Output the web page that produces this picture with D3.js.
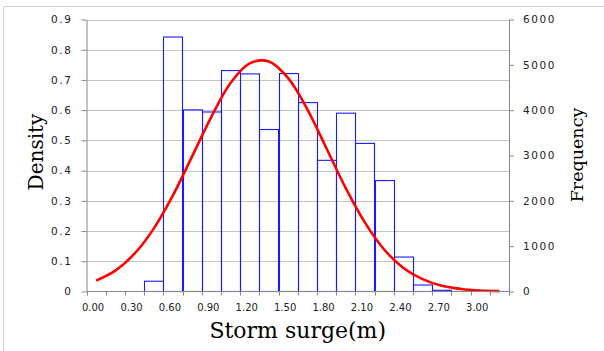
<!DOCTYPE html>
<html>
<head>
<meta charset="utf-8">
<script src="https://cdn.jsdelivr.net/npm/d3@7"></script>
<style>
  body { margin: 0; background: #fff; }
  svg { display: block; }
</style>
</head>
<body>
<div id="main"></div>
<script>
// storm surge bins (m), 0.15 m wide
const categories = ["0.00","0.15","0.30","0.45","0.60","0.75","0.90","1.05","1.20","1.35","1.50",
                    "1.65","1.80","1.95","2.10","2.25","2.40","2.55","2.70","2.85","3.00","3.15"];
// histogram bar heights (density axis)
const binDensity = [0, 0, 0, 0.034, 0.842, 0.601, 0.594, 0.731, 0.720, 0.536, 0.721,
                    0.625, 0.434, 0.590, 0.490, 0.367, 0.114, 0.0215, 0.004, 0, 0, 0];
// fitted density curve, one point per bin
const fitDensity = [0.036, 0.069, 0.125, 0.208, 0.318, 0.447, 0.578, 0.690, 0.755, 0.761, 0.706,
                    0.603, 0.473, 0.342, 0.228, 0.139, 0.078, 0.041, 0.019, 0.0085, 0.0034, 0.0013];
const densityTicks = [0, 0.1, 0.2, 0.3, 0.4, 0.5, 0.6, 0.7, 0.8, 0.9];
const freqTicks = [0, 1000, 2000, 3000, 4000, 5000, 6000];

const ctx = {
    width: 604,
    height: 351,
    left: 86.5,
    right: 509,
    top: 19.5,
    bottom: 291.5
};

function createViz() {
    const svg = d3.select("#main").append("svg")
        .attr("width", ctx.width)
        .attr("height", ctx.height);

    // outer chart frame (only top and left edges visible)
    svg.append("path")
        .attr("d", `M3.5,${ctx.height} V6.5 H${ctx.width}`)
        .attr("fill", "none")
        .attr("stroke", "#d0d0d0");

    const x = d3.scaleBand().domain(categories).range([ctx.left, ctx.right]).padding(0);
    const yL = d3.scaleLinear().domain([0, 0.9]).range([ctx.bottom, ctx.top]);
    const yR = d3.scaleLinear().domain([0, 6000]).range([ctx.bottom, ctx.top]);
    const bw = x.bandwidth();

    // gridlines
    svg.append("g").selectAll("line")
        .data(densityTicks.filter(d => d > 0))
        .enter().append("line")
        .attr("x1", ctx.left).attr("x2", ctx.right)
        .attr("y1", d => Math.round(yL(d)) + 0.5)
        .attr("y2", d => Math.round(yL(d)) + 0.5)
        .attr("stroke", "#c4c4c4")
        .attr("stroke-width", 1);

    // histogram bars
    svg.append("g").selectAll("rect")
        .data(binDensity.map((v, i) => ({ c: categories[i], v: v })).filter(d => d.v > 0))
        .enter().append("rect")
        .attr("x", d => Math.round(x(d.c)) + 0.5)
        .attr("y", d => yL(d.v))
        .attr("width", Math.round(bw))
        .attr("height", d => ctx.bottom - yL(d.v))
        .attr("fill", "none")
        .attr("stroke", "#1a1aff")
        .attr("stroke-width", 1.1);

    // fitted curve
    const line = d3.line()
        .x((d, i) => x(categories[i]) + bw / 2)
        .y(d => yL(d))
        .curve(d3.curveCatmullRom);
    svg.append("path")
        .datum(fitDensity)
        .attr("d", line)
        .attr("fill", "none")
        .attr("stroke", "#ff0000")
        .attr("stroke-width", 2.6);

    // left axis
    const axL = svg.append("g")
        .attr("transform", `translate(${ctx.left},0)`)
        .call(d3.axisLeft(yL).tickValues(densityTicks).tickSize(5).tickSizeOuter(0).tickPadding(9)
            .tickFormat(d => d === 0 ? "0" : d3.format(".1f")(d)));
    // right axis
    const axR = svg.append("g")
        .attr("transform", `translate(${ctx.right},0)`)
        .call(d3.axisRight(yR).tickValues(freqTicks).tickSize(5).tickSizeOuter(0).tickPadding(9)
            .tickFormat(d3.format("d")));
    [axL, axR].forEach(a => {
        a.select(".domain").attr("stroke", "#868686");
        a.selectAll(".tick line").attr("stroke", "#868686");
        a.selectAll("text")
            .attr("fill", "#222")
            .style("font-family", "DejaVu Sans")
            .style("font-size", "10.5px")
            .style("letter-spacing", "1.6px");
    });

    // bottom axis: line, ticks at bin edges, labels every 0.30
    svg.append("line")
        .attr("x1", ctx.left).attr("x2", ctx.right)
        .attr("y1", ctx.bottom).attr("y2", ctx.bottom)
        .attr("stroke", "#868686");
    const edges = categories.map(c => x(c)).concat([ctx.right]);
    svg.append("g").selectAll("line")
        .data(edges)
        .enter().append("line")
        .attr("x1", d => Math.round(d) + 0.5).attr("x2", d => Math.round(d) + 0.5)
        .attr("y1", ctx.bottom).attr("y2", ctx.bottom + 4)
        .attr("stroke", "#868686");
    svg.append("g").selectAll("text")
        .data(categories.filter((c, i) => i % 2 === 0))
        .enter().append("text")
        .attr("x", d => x(d) + bw / 2 - 3)
        .attr("y", 311)
        .attr("text-anchor", "middle")
        .attr("fill", "#222")
        .style("font-family", "DejaVu Sans")
        .style("font-size", "10px")
        .text(d => d);

    // axis titles
    svg.append("text")
        .attr("x", (ctx.left + ctx.right) / 2)
        .attr("y", 338)
        .attr("text-anchor", "middle")
        .style("font-family", "DejaVu Serif")
        .style("font-size", "22px")
        .text("Storm surge(m)");
    svg.append("text")
        .attr("transform", "translate(43,152) rotate(-90)")
        .attr("text-anchor", "middle")
        .style("font-family", "DejaVu Serif")
        .style("font-size", "20px")
        .text("Density");
    svg.append("text")
        .attr("transform", "translate(583,155) rotate(-90)")
        .attr("text-anchor", "middle")
        .style("font-family", "DejaVu Serif")
        .style("font-size", "17.5px")
        .text("Frequency");
}

createViz();
</script>
</body>
</html>
